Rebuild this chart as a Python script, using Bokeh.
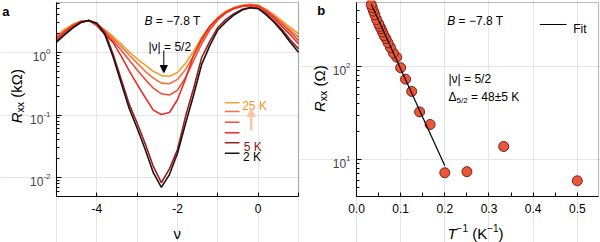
import math

from bokeh.embed import file_html
from bokeh.layouts import row
from bokeh.models import (Arrow, BoxAnnotation, CustomJSTickFormatter,
                          FixedTicker, Label, LinearAxis, LogAxis, NormalHead,
                          Range1d)
from bokeh.plotting import figure
from bokeh.resources import INLINE

FONT = "Liberation Sans"

# ---------------- panel a: R_xx versus filling factor at B = -7.8 T ----------------
nu = [-5.0, -4.8, -4.6, -4.4, -4.2, -4.0, -3.8, -3.6, -3.4, -3.2, -3.0,
      -2.8, -2.6, -2.4, -2.2, -2.0, -1.8, -1.6, -1.4, -1.2, -1.0,
      -0.8, -0.6, -0.4, -0.2, 0.0, 0.2, 0.4, 0.6, 0.8, 1.0]

# R_xx in kOhm
r_25k = [1.86, 2.34, 2.82, 3.16, 3.24, 2.88, 2.29, 1.82, 1.38, 1.02, 0.794,
         0.631, 0.501, 0.427, 0.417, 0.479, 0.676, 1.05, 1.74, 2.63, 3.63,
         4.57, 5.25, 5.69, 5.89, 5.75, 4.90, 3.98, 3.16, 2.51, 2.00]
r_20k = [1.78, 2.24, 2.75, 3.16, 3.24, 2.88, 2.24, 1.70, 1.26, 0.912, 0.676,
         0.501, 0.389, 0.324, 0.316, 0.372, 0.537, 0.891, 1.55, 2.45, 3.47,
         4.47, 5.19, 5.62, 5.82, 5.62, 4.79, 3.80, 2.95, 2.29, 1.76]
r_15k = [1.70, 2.19, 2.69, 3.09, 3.24, 2.82, 2.14, 1.55, 1.10, 0.759, 0.525,
         0.372, 0.269, 0.219, 0.209, 0.251, 0.398, 0.741, 1.38, 2.29, 3.31,
         4.27, 5.13, 5.56, 5.75, 5.56, 4.68, 3.72, 2.82, 2.14, 1.55]
r_10k = [1.62, 2.09, 2.63, 3.09, 3.24, 2.69, 1.95, 1.45, 0.881, 0.513, 0.309,
         0.191, 0.120, 0.102, 0.110, 0.176, 0.380, 0.912, 1.66, 2.63, 3.55,
         4.37, 5.01, 5.43, 5.62, 5.50, 4.47, 3.47, 2.57, 1.91, 1.38]
r_5k = [1.51, 1.95, 2.51, 3.02, 3.24, 2.95, 2.09, 0.955, 0.380, 0.151, 0.0741,
        0.0347, 0.0151, 0.0083, 0.0138, 0.0282, 0.0955, 0.269, 0.832, 1.51, 2.51,
        3.39, 4.17, 4.90, 5.25, 5.13, 4.17, 3.16, 2.29, 1.58, 1.15]
r_2k = [1.46, 1.91, 2.45, 3.02, 3.24, 2.92, 1.93, 0.861, 0.331, 0.129, 0.0617,
        0.0282, 0.0120, 0.0070, 0.0112, 0.0245, 0.0733, 0.209, 0.646, 1.29, 2.29,
        3.09, 3.98, 4.79, 5.19, 5.01, 3.98, 3.02, 2.14, 1.45, 1.01]

curves = [r_25k, r_20k, r_15k, r_10k, r_5k, r_2k]
curve_colors = ["#F6A02A", "#F3713F", "#EF5136", "#E52E24", "#9B1E1E", "#1E1414"]

a_x_ticks = [-4, -2, 0]
a_x_minor = [-5, -3, -1, 1]
a_y_ticks = [0.01, 0.1, 1.0]

# ---------------- panel b: activation plot at |nu| = 5/2 ----------------
temps = [2, 3, 4, 5, 6, 7, 8, 9, 10, 11, 12, 13, 14, 15, 16, 17, 18, 19, 20,
         22, 24, 26, 28, 30]
r_min = [5.9, 13.8, 7.4, 7.2, 23.8, 32.5, 54, 73, 97, 126, 140, 160, 180, 200,
         215, 235, 255, 270, 290, 320, 360, 395, 430, 465]   # Ohm
inv_t = [1.0 / t for t in temps]

gap = 48.0            # K, Delta_{5/2}
fit_prefactor = 1040  # Ohm
fit_inv_t = [1.0 / 30, 0.2]
fit_r = [fit_prefactor * math.exp(-gap / 2.0 * x) for x in fit_inv_t]

b_x_ticks = [0.0, 0.1, 0.2, 0.3, 0.4, 0.5]
b_x_minor = [0.05, 0.15, 0.25, 0.35, 0.45]
b_y_ticks = [10, 100]

# each panel: 300 x 242 canvas, axes box from x=56..298, y=2..196 (from top)
W, H = 300, 242
BOX_L, BOX_R, BOX_T, BOX_B = 56, 298, 2, 196
A_BOX = (-5.0, 1.0, 0.005, 6.3)
B_BOX = (0.0, 0.548, 4.0, 488.0)

# Arial / Liberation Sans advance widths (em)
ADV = {' ': 0.278, '(': 0.333, ')': 0.333, '-': 0.333, '\u2212': 0.584,
       '.': 0.278, '/': 0.278, '=': 0.584, '\u00b1': 0.584, '|': 0.26,
       'B': 0.667, 'K': 0.667, 'R': 0.722, 'T': 0.611, 'F': 0.611,
       'i': 0.222, 't': 0.278, 'k': 0.5, 'x': 0.5, '\u03a9': 0.768,
       '\u0394': 0.668, '\u03bd': 0.52}


def advance(s, size):
    return size * sum(ADV.get(c, 0.556) for c in s)


def canvas_ranges(box):
    """Extend the box's data limits so that the frame fills the whole canvas."""
    x0, x1, y0, y1 = box
    kx = (x1 - x0) / (BOX_R - BOX_L)
    ly0, ly1 = math.log10(y0), math.log10(y1)
    ky = (ly1 - ly0) / (BOX_B - BOX_T)
    xr = Range1d(x0 - BOX_L * kx, x1 + (W - BOX_R) * kx)
    yr = Range1d(10 ** (ly0 - (H - BOX_B) * ky), 10 ** (ly1 + BOX_T * ky))
    return xr, yr


def put_run(fig, runs, cx, cy, color="black", vertical=False, center=False):
    """Lay out text pieces (text, size, style, rise) at canvas pixel cx, cy
    (cy measured from the top, on the text baseline)."""
    sx, sy = cx, H - cy
    total = sum(advance(t, s) for t, s, _, _ in runs)
    pos = -total / 2 if center else 0.0
    for text, size, style, rise in runs:
        shown = text.lstrip(" ")
        off = pos + advance(text[:len(text) - len(shown)], size)
        if vertical:
            lx, ly = sx - rise, sy + off
        else:
            lx, ly = sx + off, sy + rise
        fig.add_layout(Label(x=lx, y=ly, x_units="screen", y_units="screen",
                             text=shown, text_font=FONT,
                             text_font_size=f"{size}px", text_font_style=style,
                             text_color=color, text_align="left",
                             text_baseline="alphabetic",
                             angle=math.pi / 2 if vertical else 0))
        pos += advance(text, size)


def log_tick_labels(fig, decades, right=50):
    for k in decades:
        exp = str(k)
        split = right - advance(exp, 8)
        fig.add_layout(Label(x=split, x_units="screen", y=10.0 ** k,
                             y_offset=-4.3, text="10", text_font=FONT,
                             text_font_size="12px", text_align="right",
                             text_baseline="alphabetic"))
        fig.add_layout(Label(x=split, x_units="screen", y=10.0 ** k,
                             y_offset=0.8, text=exp, text_font=FONT,
                             text_font_size="8px", text_align="left",
                             text_baseline="alphabetic"))


def segment(fig, x0, y0, x1, y1, color, width=1.6, head=None):
    """Straight stroke between canvas pixels (y measured from the top)."""
    fig.add_layout(Arrow(x_start=x0, y_start=H - y0, x_end=x1, y_end=H - y1,
                         start_units="screen", end_units="screen",
                         line_color=color, line_width=width, end=head))


def log_minor(lo, hi):
    """2..9 x decade minor ticks that fall inside [lo, hi]."""
    out = []
    for d in range(math.floor(math.log10(lo)), math.ceil(math.log10(hi)) + 1):
        for m in range(2, 10):
            t = m * 10.0 ** d
            if lo <= t <= hi:
                out.append(t)
    return out


def make_fig(box, x_ticks, x_minor, y_ticks, x_labels):
    xr, yr = canvas_ranges(box)
    p = figure(width=W, height=H, x_range=xr, y_range=yr, y_axis_type="log",
               x_axis_location=None, y_axis_location=None,
               toolbar_location=None, output_backend="svg", min_border=0)
    p.outline_line_color = None
    p.border_fill_color = "white"
    p.background_fill_color = "white"
    x0, x1, y0, y1 = box
    xa = LinearAxis(fixed_location=y0, bounds=(x0, x1),
                    ticker=FixedTicker(ticks=x_ticks, minor_ticks=x_minor),
                    major_label_overrides=x_labels)
    ya = LogAxis(fixed_location=x0, bounds=(y0, y1),
                 ticker=FixedTicker(ticks=y_ticks,
                                    minor_ticks=log_minor(y0, y1)),
                 formatter=CustomJSTickFormatter(code="return ''"))
    for ax in (xa, ya):
        ax.axis_line_color = "black"
        ax.major_tick_line_color = "black"
        ax.minor_tick_line_color = "black"
        ax.major_tick_out = 0
        ax.minor_tick_out = 0
        ax.major_label_text_font = FONT
        ax.major_label_text_font_size = "12px"
        ax.major_label_text_color = "black"
    xa.major_tick_in = 4
    xa.minor_tick_in = 4
    xa.major_label_standoff = 7
    ya.major_tick_in = 5
    ya.minor_tick_in = 3
    p.add_layout(xa, "below")
    p.add_layout(ya, "left")
    p.add_layout(BoxAnnotation(left=x0, right=x1, bottom=y0, top=y1,
                               fill_color=None, line_color="#222222",
                               line_width=1.2))
    return p


# ---------- panel a ----------
pa = make_fig(A_BOX, a_x_ticks, a_x_minor, a_y_ticks,
              {t: str(t) for t in a_x_ticks})

for r, c in zip(curves, curve_colors):
    pa.line(nu, r, line_color=c, line_width=1.6)

log_tick_labels(pa, [0, -1, -2])
put_run(pa, [("a", 13, "bold", 0)], 1.7, 10.7)
put_run(pa, [("B", 12, "italic", 0), (" = \u22127.8 T", 12, "normal", 0)], 144, 20)
put_run(pa, [("|\u03bd| = 5/2", 12, "normal", 0)], 148, 46)
segment(pa, 163.3, 50, 163.3, 72, "black", width=1,
        head=NormalHead(size=7, fill_color="black", line_color="black"))

key_y = [102.3, 111, 121.7, 132.3, 142.3, 152.7]
for y, c in zip(key_y, curve_colors):
    segment(pa, 224.3, y, 239, y, c, width=1.6)
put_run(pa, [("25 K", 12, "normal", 0)], 241.7, 105.7, color="#F39325")
put_run(pa, [("5 K", 12, "normal", 0)], 243.3, 146, color="#8B1414")
put_run(pa, [("2 K", 12, "normal", 0)], 242.5, 156.7, color="black")
segment(pa, 250.7, 130, 250.7, 108, "#F8C6A6", width=2.5,
        head=NormalHead(size=8, fill_color="#F8C6A6", line_color="#F8C6A6"))

put_run(pa, [("R", 15, "italic", 0), ("xx", 10.5, "normal", -3),
             (" (k\u03a9)", 15, "normal", 0)], 16, 122.8, vertical=True)
put_run(pa, [("\u03bd", 15, "normal", 0)], 177, 233, center=True)

# ---------- panel b ----------
pb = make_fig(B_BOX, b_x_ticks, b_x_minor, b_y_ticks,
              {t: f"{t:.1f}" for t in b_x_ticks})

pb.scatter(inv_t, r_min, size=10, fill_color="#EA563B", line_color="#7D2113",
           line_width=1)
pb.line(fit_inv_t, fit_r, line_color="black", line_width=1.2)

log_tick_labels(pb, [2, 1])
put_run(pb, [("b", 13, "bold", 0)], 16.7, 10)
put_run(pb, [("B", 12, "italic", 0), (" = \u22127.8 T", 12, "normal", 0)], 146.7, 20.7)
segment(pb, 239.3, 24, 266, 24, "black", width=1.2)
put_run(pb, [("Fit", 12, "normal", 0)], 272.7, 28)
put_run(pb, [("|\u03bd| = 5/2", 12, "normal", 0)], 148, 78.3)
put_run(pb, [("\u0394", 12, "normal", 0), ("5/2", 8, "normal", -3),
             (" = 48\u00b15 K", 12, "normal", 0)], 148, 96.7)

put_run(pb, [("R", 15, "italic", 0), ("xx", 10.5, "normal", -3),
             (" (\u03a9)", 15, "normal", 0)], 19, 111.5, vertical=True)
put_run(pb, [("T", 15, "italic", 0), ("\u22121", 10, "normal", 6),
             (" (K", 15, "normal", 0), ("\u22121", 10, "normal", 6),
             (")", 15, "normal", 0)], 175, 233.3, center=True)

layout = row(pa, pb)
open("out.html", "w").write(file_html(layout, INLINE))
